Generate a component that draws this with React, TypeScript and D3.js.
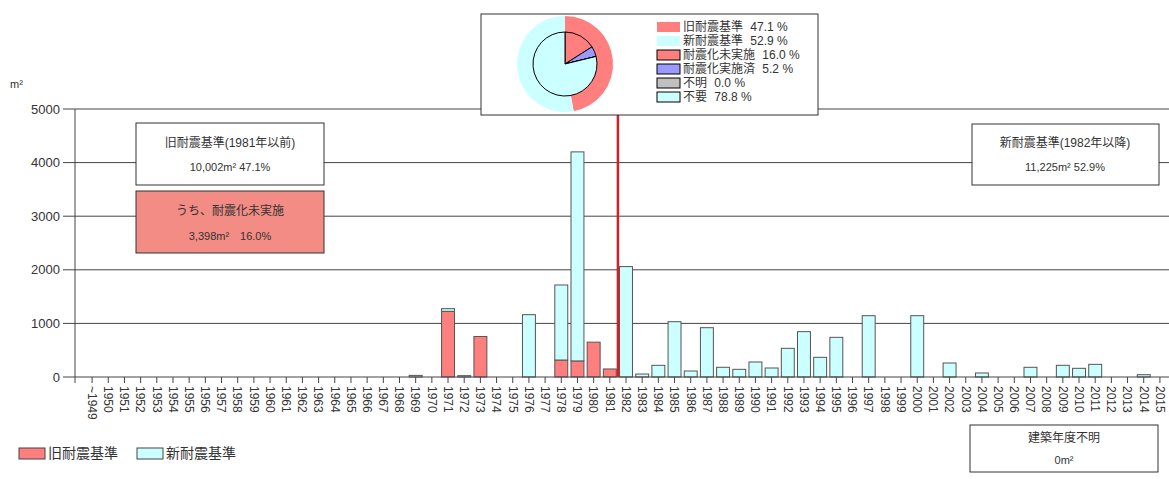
import React from "react";
import * as d3 from "d3";

// categories (x axis)
const years = ["~1949", ...d3.range(1950, 2016).map(String)];

// 旧耐震基準 bars (耐震化未実施 part, red)
const oldYears = ["1971", "1973", "1978", "1979", "1980", "1981"];
const oldValues = [1225, 755, 317, 300, 650, 150];

// light cyan part of the bars
const newYears = [
  "1969", "1971", "1972", "1976", "1978", "1979",
  "1982", "1983", "1984", "1985", "1986", "1987", "1988", "1989", "1990",
  "1991", "1992", "1993", "1994", "1995", "1997", "2000", "2002", "2004",
  "2007", "2009", "2010", "2011", "2014",
];
const newValues = [
  30, 50, 25, 1163, 1400, 3900,
  2060, 55, 218, 1032, 112, 920, 181, 143, 280,
  168, 535, 846, 367, 740, 1144, 1144, 261, 75,
  181, 218, 162, 236, 43,
];

const yTicks = [0, 1000, 2000, 3000, 4000, 5000];

// pie
const outerLabels = ["旧耐震基準", "新耐震基準"];
const outerValues = [47.1, 52.9];
const innerLabels = ["耐震化未実施", "耐震化実施済", "不明", "不要"];
const innerValues = [16.0, 5.2, 0.0, 78.8];

const RED = "#FF7F7F";
const CYAN = "#CCFFFF";
const BLUE = "#9999FF";
const GREY = "#C0C0C0";
const FONT = "'Liberation Sans', 'Noto Sans CJK JP', sans-serif";

const width = 1169;
const height = 479;
const axisX = 75;

export default function App() {
  const table = years.map((yr) => {
    const oi = oldYears.indexOf(yr);
    const ni = newYears.indexOf(yr);
    return {
      year: yr,
      old: oi >= 0 ? oldValues[oi] : 0,
      new: ni >= 0 ? newValues[ni] : 0,
    };
  });

  const x = d3
    .scaleBand()
    .domain(years)
    .range([84, 1168])
    .paddingInner(0.2)
    .paddingOuter(0.1);

  const y = d3.scaleLinear().domain([0, 5000]).range([377, 109]);

  const stack = d3.stack().keys(["old", "new"])(table as any);
  const colors = [RED, CYAN];

  const cx = (d: string) => (x(d) as number) + x.bandwidth() / 2;
  const splitX = (x("1982") as number) - (x.step() * 0.2) / 2;

  // pie
  const pie = d3.pie<number>().sort(null).startAngle(0).endAngle(2 * Math.PI);
  const outerArc = d3.arc<any>().innerRadius(0).outerRadius(48);
  const innerArc = d3.arc<any>().innerRadius(0).outerRadius(32);
  const outerSlices = pie(outerValues);
  const innerSlices = pie(innerValues);
  const innerColors = [RED, BLUE, GREY, CYAN];

  const legendRows = [
    ...outerLabels.map((l, i) => ({ label: l, value: outerValues[i], color: [RED, CYAN][i], border: false })),
    ...innerLabels.map((l, i) => ({ label: l, value: innerValues[i], color: innerColors[i], border: true })),
  ];

  return (
    <svg
      width={width}
      height={height}
      style={{ position: "absolute", left: 0, top: 0, background: "#fff" }}
      fontFamily={FONT}
    >
      <rect width={width} height={height} fill="#fff" />

      {/* unit */}
      <text x={10} y={88} fontSize={11} fill="#333">
        m²
      </text>

      {/* grid lines */}
      {yTicks.filter((t) => t > 0).map((t) => (
        <line key={t} x1={axisX} x2={width} y1={y(t)} y2={y(t)} stroke="#444" strokeWidth={1} />
      ))}

      {/* y axis */}
      <line x1={axisX} x2={axisX} y1={y(0)} y2={y(5000)} stroke="#444" />
      {yTicks.map((t) => (
        <g key={t}>
          <line x1={63} x2={axisX} y1={y(t)} y2={y(t)} stroke="#444" />
          <text x={60} y={y(t)} dy="0.35em" textAnchor="end" fontSize={13} fill="#333">
            {t}
          </text>
        </g>
      ))}

      {/* bars */}
      {stack.map((layer, li) =>
        layer.map((d: any, i) => {
          const h = y(d[0]) - y(d[1]);
          if (h <= 0) return null;
          return (
            <rect
              key={`${li}-${i}`}
              x={x(years[i])}
              y={y(d[1])}
              width={x.bandwidth()}
              height={h}
              fill={colors[li]}
              stroke="#555"
              strokeWidth={1}
            />
          );
        })
      )}

      {/* x axis */}
      <line x1={axisX} x2={width} y1={y(0)} y2={y(0)} stroke="#444" />
      <line x1={axisX} x2={axisX} y1={y(0)} y2={y(0) + 6} stroke="#444" />
      {years.map((yr) => (
        <g key={yr}>
          <line x1={cx(yr)} x2={cx(yr)} y1={y(0)} y2={y(0) + 6} stroke="#444" />
          <text
            transform={`translate(${cx(yr)},386) rotate(90)`}
            dy="0.35em"
            fontSize={12}
            fill="#333"
          >
            {yr}
          </text>
        </g>
      ))}

      {/* annotation boxes */}
      <rect x={136} y={123} width={188} height={62} fill="#fff" stroke="#333" />
      <text x={230} y={143} dy="0.35em" textAnchor="middle" fontSize={12} fill="#333">
        旧耐震基準(1981年以前)
      </text>
      <text x={230} y={167} dy="0.35em" textAnchor="middle" fontSize={11} fill="#333">
        10,002m² 47.1%
      </text>

      <rect x={136} y={191} width={188} height={62} fill="#F28C84" stroke="#333" />
      <text x={230} y={211} dy="0.35em" textAnchor="middle" fontSize={12} fill="#333">
        うち、耐震化未実施
      </text>
      <text x={230} y={236} dy="0.35em" textAnchor="middle" fontSize={11} fill="#333">
        3,398m²　16.0%
      </text>

      <rect x={972} y={124} width={187} height={61} fill="#fff" stroke="#333" />
      <text x={1065} y={143} dy="0.35em" textAnchor="middle" fontSize={12} fill="#333">
        新耐震基準(1982年以降)
      </text>
      <text x={1065} y={167} dy="0.35em" textAnchor="middle" fontSize={11} fill="#333">
        11,225m² 52.9%
      </text>

      <rect x={970} y={425} width={188} height={47} fill="#fff" stroke="#333" />
      <text x={1064} y={438} dy="0.35em" textAnchor="middle" fontSize={12} fill="#333">
        建築年度不明
      </text>
      <text x={1064} y={460} dy="0.35em" textAnchor="middle" fontSize={11} fill="#333">
        0m²
      </text>

      {/* split line */}
      <line x1={splitX} x2={splitX} y1={115} y2={y(0)} stroke="#D42020" strokeWidth={2.5} />

      {/* pie box */}
      <rect x={481} y={14} width={337} height={101} fill="#fff" stroke="#333" />
      <g transform="translate(565,64)">
        {outerSlices.map((s, i) => (
          <path key={i} d={outerArc(s) as string} fill={[RED, CYAN][i]} />
        ))}
        {innerSlices.map((s, i) => (
          <path key={i} d={innerArc(s) as string} fill={innerColors[i]} stroke="#000" strokeWidth={1} />
        ))}
      </g>
      {legendRows.map((r, i) => (
        <g key={r.label} transform={`translate(657,${22 + i * 14})`}>
          <rect
            width={23}
            height={10}
            fill={r.color}
            stroke={r.border ? "#000" : "none"}
          />
          <text x={26} y={5} dy="0.35em" fontSize={12} fill="#333">
            {r.label}
            {"  "}
            <tspan dx={4}>{r.value.toFixed(1)} %</tspan>
          </text>
        </g>
      ))}

      {/* bottom legend */}
      <rect x={19} y={448} width={26} height={11} fill={RED} stroke="#444" />
      <text x={48} y={453} dy="0.35em" fontSize={14} fill="#333">
        旧耐震基準
      </text>
      <rect x={137} y={448} width={26} height={11} fill={CYAN} stroke="#444" />
      <text x={166} y={453} dy="0.35em" fontSize={14} fill="#333">
        新耐震基準
      </text>
    </svg>
  );
}
